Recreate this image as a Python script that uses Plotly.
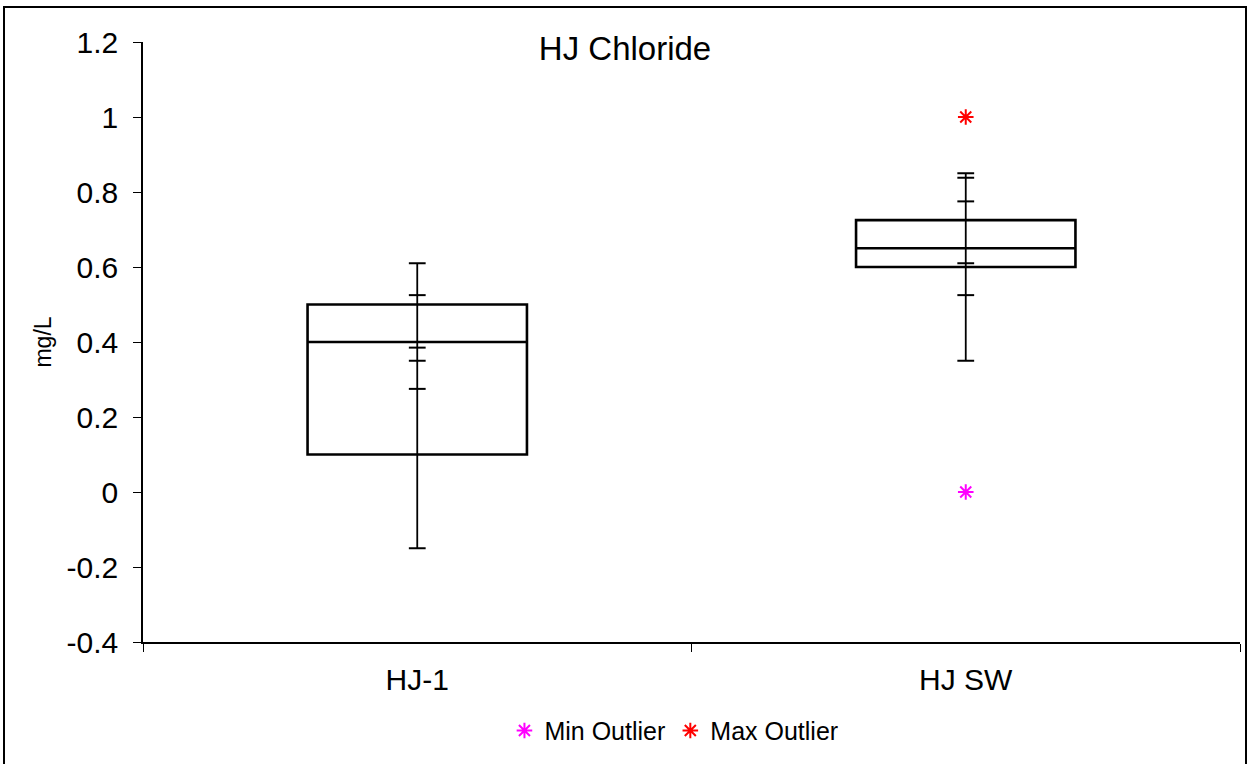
import plotly.graph_objects as go

# Site categories and box statistics (mg/L)
categories = ["HJ-1", "HJ SW"]
q1 = [0.1, 0.6]
median = [0.4, 0.65]
q3 = [0.5, 0.725]
whisker_low = [-0.15, 0.35]
whisker_high = [0.61, 0.85]

# Cross-tick levels marked along each whisker
ticks_hj1 = [-0.15, 0.275, 0.35, 0.385, 0.525, 0.61]
ticks_hjsw = [0.35, 0.525, 0.61, 0.775, 0.838, 0.85]

# Outliers
min_outlier_x = ["HJ SW"]
min_outlier_y = [0.0]
max_outlier_x = ["HJ SW"]
max_outlier_y = [1.0]

y_ticks = [-0.4, -0.2, 0, 0.2, 0.4, 0.6, 0.8, 1, 1.2]
y_tick_text = ["-0.4", "-0.2", "0", "0.2", "0.4", "0.6", "0.8", "1", "1.2"]

FONT = "Liberation Sans, Arial, sans-serif"

fig = go.Figure()

# Boxes (quartiles and median), no whiskers of their own
fig.add_trace(go.Box(
    x=categories, q1=q1, median=median, q3=q3,
    lowerfence=q1, upperfence=q3,
    width=0.4, whiskerwidth=0,
    fillcolor="white", line=dict(color="black", width=2.6),
    boxpoints=False, showlegend=False, hoverinfo="skip",
))

# Vertical whisker lines through each box
wx, wy = [], []
for c, lo, hi in zip(categories, whisker_low, whisker_high):
    wx += [c, c, None]
    wy += [lo, hi, None]
fig.add_trace(go.Scatter(
    x=wx, y=wy, mode="lines",
    line=dict(color="black", width=1.8),
    showlegend=False, hoverinfo="skip",
))

# Horizontal cross ticks on the whiskers
tx = [categories[0]] * len(ticks_hj1) + [categories[1]] * len(ticks_hjsw)
ty = ticks_hj1 + ticks_hjsw
fig.add_trace(go.Scatter(
    x=tx, y=ty, mode="markers",
    marker=dict(symbol="line-ew-open", size=12, color="black",
                line=dict(color="black", width=2)),
    showlegend=False, hoverinfo="skip",
))

fig.add_trace(go.Scatter(
    x=min_outlier_x, y=min_outlier_y, mode="markers", name="Min Outlier",
    marker=dict(symbol="asterisk-open", size=13, color="#FF00FF",
                line=dict(color="#FF00FF", width=2)),
))
fig.add_trace(go.Scatter(
    x=max_outlier_x, y=max_outlier_y, mode="markers", name="Max Outlier",
    marker=dict(symbol="asterisk-open", size=13, color="#FF0000",
                line=dict(color="#FF0000", width=2)),
))

fig.update_layout(
    width=1250, height=764,
    paper_bgcolor="white", plot_bgcolor="white",
    margin=dict(l=143, r=10, t=42, b=122),
    font=dict(family=FONT, color="black", size=30),
    title=dict(text="HJ Chloride", x=0.5, xref="container", xanchor="center",
               y=1 - 48 / 764, yref="container", yanchor="middle",
               font=dict(size=33)),
    showlegend=True,
    legend=dict(orientation="h", x=0.484, xanchor="center",
                y=-0.148, yanchor="middle", font=dict(size=25),
                itemwidth=30, bgcolor="rgba(0,0,0,0)"),
    xaxis=dict(
        type="category", categoryorder="array", categoryarray=categories,
        range=[-0.5, 1.5], tickson="boundaries",
        ticks="outside", ticklen=8, tickcolor="black", tickwidth=1,
        showline=True, linecolor="black", linewidth=1.8,
        showgrid=False, zeroline=False, ticklabelstandoff=10,
        tickfont=dict(size=30),
    ),
    yaxis=dict(
        range=[-0.4, 1.2], tickvals=y_ticks, ticktext=y_tick_text,
        ticks="outside", ticklen=8, tickcolor="black", tickwidth=1,
        showline=True, linecolor="black", linewidth=1.5,
        showgrid=False, zeroline=False, ticklabelstandoff=9,
        tickfont=dict(size=30),
        title=dict(text="mg/L", font=dict(size=23), standoff=8),
    ),
    shapes=[dict(
        type="rect", xref="paper", yref="paper",
        x0=(4 - 143) / 1097, x1=(1246 - 143) / 1097,
        y0=(642 - 775) / 600, y1=(642 - 7) / 600,
        line=dict(color="black", width=2), fillcolor="rgba(0,0,0,0)",
        layer="above",
    )],
)

fig.write_html("out.html")
